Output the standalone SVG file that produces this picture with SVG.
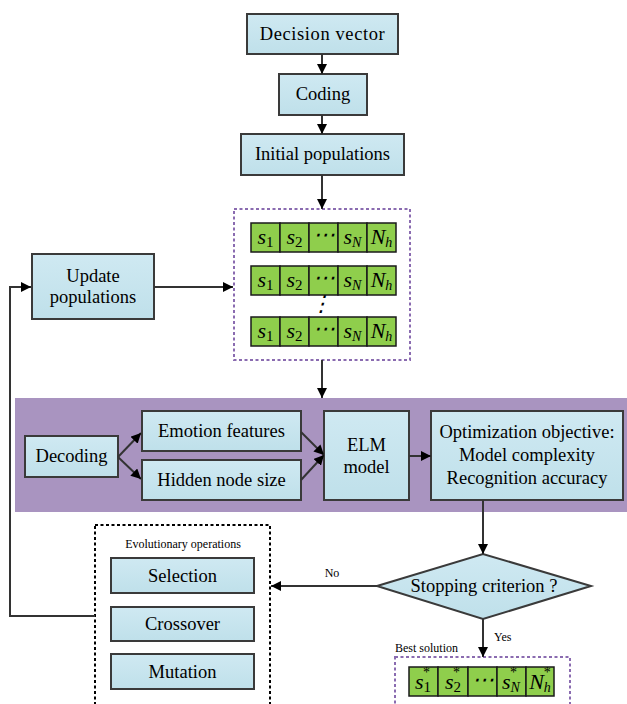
<svg xmlns="http://www.w3.org/2000/svg" width="627" height="704" viewBox="0 0 627 704">
<defs>
<linearGradient id="g" x1="0" y1="0" x2="0" y2="1">
<stop offset="0" stop-color="#cfe9f2"/>
<stop offset="1" stop-color="#bfe0ea"/>
</linearGradient>
<marker id="ah" viewBox="0 0 10 10" refX="10" refY="5" markerWidth="10" markerHeight="10" markerUnits="userSpaceOnUse" orient="auto">
<path d="M0,0 L10,5 L0,10 z" fill="#000"/>
</marker>
</defs>
<style>
.box{fill:url(#g);stroke:#3a3a3a;stroke-width:2}
.t{font-family:"Liberation Serif","Times New Roman",serif;font-size:18.5px;fill:#000;text-anchor:middle}
.sm{font-family:"Liberation Serif","Times New Roman",serif;font-size:12px;fill:#000}
.cell{fill:#8fce4c;stroke:#1a1a1a;stroke-width:1.5}
.m{font-family:"Liberation Serif","Times New Roman",serif;font-style:italic;font-size:22px;fill:#000;text-anchor:middle}
.c{stroke:#333;stroke-width:2;fill:none}
.pd{fill:none;stroke:#8a6bb0;stroke-width:2;stroke-dasharray:3,2.5}
.bd{fill:none;stroke:#000;stroke-width:2;stroke-dasharray:3,2.5}
</style>
<rect x="15" y="398" width="612" height="114" fill="#a994c0"/>
<g id="decision"><rect class="box" x="247" y="14" width="151" height="40"/><text class="t" x="322.5" y="40" letter-spacing="0.6">Decision vector</text></g>
<g id="coding"><rect class="box" x="279" y="74" width="88" height="41"/><text class="t" x="323" y="100">Coding</text></g>
<g id="initial"><rect class="box" x="241" y="134" width="163" height="41"/><text class="t" x="322.5" y="160">Initial populations</text></g>
<g id="update"><rect class="box" x="32" y="254" width="122" height="65"/><text class="t" x="93" y="282">Update</text><text class="t" x="93" y="303">populations</text></g>
<g id="populations">
<rect class="pd" x="234" y="209" width="176" height="151"/>
<g id="row1" transform="translate(0,223)">
<rect class="cell" x="251" y="0" width="29" height="29"/><rect class="cell" x="280" y="0" width="29" height="29"/><rect class="cell" x="309" y="0" width="29" height="29"/><rect class="cell" x="338" y="0" width="29" height="29"/><rect class="cell" x="367" y="0" width="29" height="29"/>
<text class="m" x="265.5" y="21">s<tspan font-style="normal" font-size="15" dy="3">1</tspan></text>
<text class="m" x="294.5" y="21">s<tspan font-style="normal" font-size="15" dy="3">2</tspan></text>
<text class="m" x="323.5" y="19" font-style="normal" font-size="19">⋯</text>
<text class="m" x="352.5" y="21">s<tspan font-size="14" dy="3">N</tspan></text>
<text class="m" x="381.5" y="21">N<tspan font-size="14" dy="3">h</tspan></text>
</g>
<g id="row2" transform="translate(0,266)">
<rect class="cell" x="251" y="0" width="29" height="29"/><rect class="cell" x="280" y="0" width="29" height="29"/><rect class="cell" x="309" y="0" width="29" height="29"/><rect class="cell" x="338" y="0" width="29" height="29"/><rect class="cell" x="367" y="0" width="29" height="29"/>
<text class="m" x="265.5" y="21">s<tspan font-style="normal" font-size="15" dy="3">1</tspan></text>
<text class="m" x="294.5" y="21">s<tspan font-style="normal" font-size="15" dy="3">2</tspan></text>
<text class="m" x="323.5" y="19" font-style="normal" font-size="19">⋯</text>
<text class="m" x="352.5" y="21">s<tspan font-size="14" dy="3">N</tspan></text>
<text class="m" x="381.5" y="21">N<tspan font-size="14" dy="3">h</tspan></text>
</g>
<text class="m" x="321" y="311" font-style="normal" font-size="17">⋮</text>
<g id="row3" transform="translate(0,317)">
<rect class="cell" x="251" y="0" width="29" height="29"/><rect class="cell" x="280" y="0" width="29" height="29"/><rect class="cell" x="309" y="0" width="29" height="29"/><rect class="cell" x="338" y="0" width="29" height="29"/><rect class="cell" x="367" y="0" width="29" height="29"/>
<text class="m" x="265.5" y="21">s<tspan font-style="normal" font-size="15" dy="3">1</tspan></text>
<text class="m" x="294.5" y="21">s<tspan font-style="normal" font-size="15" dy="3">2</tspan></text>
<text class="m" x="323.5" y="19" font-style="normal" font-size="19">⋯</text>
<text class="m" x="352.5" y="21">s<tspan font-size="14" dy="3">N</tspan></text>
<text class="m" x="381.5" y="21">N<tspan font-size="14" dy="3">h</tspan></text>
</g>
</g>
<g id="decoding"><rect class="box" x="25" y="436" width="93" height="41"/><text class="t" x="71.5" y="462">Decoding</text></g>
<g id="emotion"><rect class="box" x="142" y="411" width="159" height="40"/><text class="t" x="221.5" y="437">Emotion features</text></g>
<g id="hidden"><rect class="box" x="142" y="460" width="159" height="40"/><text class="t" x="221.5" y="486">Hidden node size</text></g>
<g id="elm"><rect class="box" x="324" y="411" width="85" height="89"/><text class="t" x="366.5" y="451">ELM</text><text class="t" x="366.5" y="473">model</text></g>
<g id="objective"><rect class="box" x="431" y="411" width="192" height="89"/><text class="t" x="527" y="438">Optimization objective:</text><text class="t" x="527" y="461">Model complexity</text><text class="t" x="527" y="484">Recognition accuracy</text></g>
<g id="stopping"><polygon points="377,586 483,554 591,586 483,619" fill="url(#g)" stroke="#3a3a3a" stroke-width="2"/><text class="t" x="484" y="592">Stopping criterion ?</text></g>
<g id="evolutionary">
<rect class="bd" x="95" y="525" width="175" height="190"/>
<text class="sm" x="183" y="548" text-anchor="middle" font-size="11.8">Evolutionary operations</text>
<g id="selection"><rect class="box" x="111" y="558" width="143" height="35"/><text class="t" x="182.5" y="582">Selection</text></g>
<g id="crossover"><rect class="box" x="111" y="607" width="143" height="34"/><text class="t" x="182.5" y="630">Crossover</text></g>
<g id="mutation"><rect class="box" x="111" y="654" width="143" height="35"/><text class="t" x="182.5" y="678">Mutation</text></g>
</g>
<g id="best">
<text class="sm" x="395" y="652" font-size="12.5">Best solution</text>
<rect class="pd" x="395" y="657" width="175" height="60"/>
<rect class="cell" x="409" y="667" width="29" height="29"/><rect class="cell" x="438" y="667" width="30" height="29"/><rect class="cell" x="468" y="667" width="29" height="29"/><rect class="cell" x="497" y="667" width="29" height="29"/><rect class="cell" x="526" y="667" width="28" height="29"/>
<text class="m" x="423" y="689">s<tspan font-style="normal" font-size="15" dy="3">1</tspan><tspan font-style="normal" font-size="14" dx="-8" dy="-15">*</tspan></text>
<text class="m" x="453" y="689">s<tspan font-style="normal" font-size="15" dy="3">2</tspan><tspan font-style="normal" font-size="14" dx="-8" dy="-15">*</tspan></text>
<text class="m" x="482.5" y="687" font-style="normal" font-size="19">⋯</text>
<text class="m" x="511" y="689">s<tspan font-size="14" dy="3">N</tspan><tspan font-style="normal" font-size="14" dx="-10" dy="-15">*</tspan></text>
<text class="m" x="540" y="689">N<tspan font-size="14" dy="3">h</tspan><tspan font-style="normal" font-size="14" dx="-7" dy="-15">*</tspan></text>
</g>
<g id="connectors">
<line class="c" x1="322" y1="54" x2="322" y2="74" marker-end="url(#ah)"/>
<line class="c" x1="322" y1="115" x2="322" y2="134" marker-end="url(#ah)"/>
<line class="c" x1="322" y1="175" x2="322" y2="209" marker-end="url(#ah)"/>
<line class="c" x1="154" y1="287" x2="233" y2="287" marker-end="url(#ah)"/>
<line class="c" x1="322" y1="360" x2="322" y2="398" marker-end="url(#ah)"/>
<line class="c" x1="118" y1="457" x2="141" y2="433" marker-end="url(#ah)"/>
<line class="c" x1="118" y1="457" x2="141" y2="479" marker-end="url(#ah)"/>
<line class="c" x1="301" y1="432" x2="324" y2="455" marker-end="url(#ah)"/>
<line class="c" x1="301" y1="480" x2="324" y2="455" marker-end="url(#ah)"/>
<line class="c" x1="409" y1="456" x2="431" y2="456" marker-end="url(#ah)"/>
<line class="c" x1="483" y1="500" x2="483" y2="554" marker-end="url(#ah)"/>
<line class="c" x1="377" y1="586" x2="271" y2="586" marker-end="url(#ah)"/>
<text class="sm" x="332" y="577" text-anchor="middle">No</text>
<line class="c" x1="483" y1="619" x2="483" y2="657" marker-end="url(#ah)"/>
<text class="sm" x="494" y="641">Yes</text>
<polyline class="c" points="95,616 10,616 10,287 31,287" marker-end="url(#ah)"/>
</g>
</svg>
